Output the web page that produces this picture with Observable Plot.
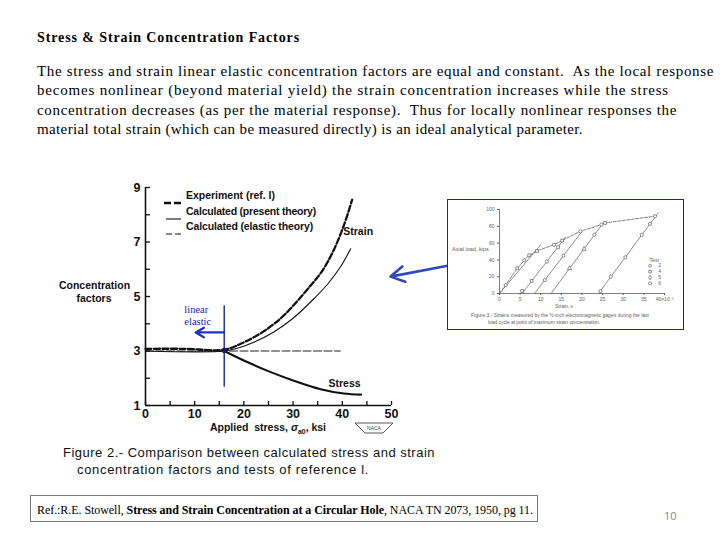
<!DOCTYPE html>
<html><head><meta charset="utf-8">
<script src="https://cdn.jsdelivr.net/npm/d3@7"></script>
<script src="https://cdn.jsdelivr.net/npm/@observablehq/plot@0.6"></script>
<style>
body{margin:0;background:#fff;}
#slide{position:relative;width:720px;height:540px;overflow:hidden;background:#fff;color:#000;}
.abs{position:absolute;white-space:pre;line-height:1;}
.plotbox{position:absolute;}
.plotbox svg{overflow:visible;}
</style></head><body><div id="slide"></div>
<script>
// ---------- text content ----------
const titleText = "Stress & Strain Concentration Factors";
const bodyLines = [
  "The stress and strain linear elastic concentration factors are equal and constant.  As the local response",
  "becomes nonlinear (beyond material yield) the strain concentration increases while the stress",
  "concentration decreases (as per the material response).  Thus for locally nonlinear responses the",
  "material total strain (which can be measured directly) is an ideal analytical parameter."
];
const bodyWidths = [677, 632, 640, 546];
const refHtml = "Ref.:R.E. Stowell, <b>Stress and Strain Concentration at a Circular Hole</b>, NACA TN 2073, 1950, pg 11.";
const pageNumber = "10";
const legendLabels = ["Experiment (ref. I)", "Calculated (present theory)", "Calculated (elastic theory)"];
const captionLines = ["Figure 2.- Comparison between calculated stress and strain", "concentration factors and tests of reference l."];
const insetCaption = ["Figure 3.- Strains measured by the \u00bd-inch electromagnetic gages during the last", "load cycle at point of maximum strain concentration."];

// ---------- main chart data ----------
const xTicks = [0, 10, 20, 30, 40, 50];
const xMinorTicks = [0, 5, 10, 15, 20, 25, 30, 35, 40, 45, 50];
const yTicks = [1, 3, 5, 7, 9];
const yMinorTicks = [1, 2, 3, 4, 5, 6, 7, 8, 9];
const expStrain = [[0,3.08],[8,3.08],[16,3.05],[20,3.32],[24,3.72],[27.5,4.2],[30,4.66],[33,5.28],[36,5.96],[38.3,6.72],[40.3,7.6],[42,8.55]];
const calcStrain = [[0,3],[16,3],[19,3.12],[22,3.32],[26,3.69],[30,4.2],[34.4,4.95],[37,5.45],[39.6,6.08],[41.7,6.75]];
const stressCurve = [[16,3.0],[20,2.65],[24.7,2.28],[30,1.92],[35.6,1.6],[40.3,1.44],[43.8,1.4]];
const elasticLine = [[0,3],[39.6,3]];
const junction = [[16,3.02]];
const curveLabels = [{x:40.2,y:7.37,t:"Strain"},{x:37.2,y:1.8,t:"Stress"}];
const blueRule = [{x:16,y1:1.67,y2:4.66}];
const blueText = [{x:7.9,y:4.52,t:"linear"},{x:7.9,y:4.08,t:"elastic"}];
const smallArrow = [{x1:16,y1:3.68,x2:10.2,y2:3.68}];
const bigArrow = [{x1:61.4,y1:6.13,x2:49.8,y2:5.73}];

// ---------- inset chart data ----------
const insetXTicks = [0,5,10,15,20,25,30,35,40];
const insetYTicks = [0,20,40,60,80,100];
const insetLoad = [[0,0],[1.5,10],[4.3,30],[6,39.5],[7.2,45.5],[9.1,50.6],[11.2,54.6],[13.2,58],[15.5,64],[19.6,74],[24.7,82],[25.6,84],[37.7,92],[38.5,96]];
const insetUnload = [
  {id:1,x:0,y:0},{id:1,x:10,y:58},
  {id:2,x:5.5,y:0},{id:2,x:16,y:67},
  {id:3,x:8.5,y:0},{id:3,x:20,y:74},
  {id:4,x:12.5,y:0},{id:4,x:25,y:83},
  {id:5,x:24,y:0},{id:5,x:38,y:93}
];
const insetPoints = [[1.5,10,"circle"],[4.3,30,"square"],[6,39.5,"circle"],[7.2,45.5,"square"],[9.1,50.6,"square"],[13.2,58,"circle"],[15.2,63,"square"],[19.6,74,"circle"],[24.7,82,"circle"],[25.6,84,"square"],[37.7,92,"circle"],[7.8,15,"square"],[11.5,38,"circle"],[14.2,55,"square"],[11,16,"circle"],[15.5,45,"circle"],[17,30,"triangle"],[20.5,53,"triangle"],[23,70,"circle"],[27,20,"circle"],[30.5,43,"circle"],[34.5,70,"circle"],[36.5,83,"circle"],[5.5,3,"square"],[24.5,3,"circle"]];
const insetLegend = [{s:"circle",t:"2",y:33},{s:"square",t:"4",y:26},{s:"diamond",t:"5",y:19},{s:"hexagon",t:"6",y:12}];

// ---------- helpers ----------
const slide = document.getElementById("slide");
const SERIF = '"Liberation Serif", "Times New Roman", serif';
const SANS = '"Liberation Sans", Arial, sans-serif';
function put(html, o) {
  const el = document.createElement("div");
  el.className = "abs";
  el.innerHTML = html;
  const s = el.style;
  s.fontFamily = o.font || SERIF;
  s.fontSize = o.size + "px";
  if (o.weight) s.fontWeight = o.weight;
  if (o.color) s.color = o.color;
  s.top = (o.cy - o.size / 2) + "px";
  s.left = (o.left || 0) + "px";
  slide.appendChild(el);
  if (o.width) {
    const w = el.getBoundingClientRect().width;
    const n = el.textContent.length;
    s.letterSpacing = ((o.width - w) / n) + "px";
  }
  if (o.cx !== undefined) {
    const w = el.getBoundingClientRect().width;
    s.left = (o.cx - w / 2) + "px";
  }
  return el;
}
function swatch(x1, x2, cy, dash, sw) {
  const d = document.createElement("div");
  d.className = "plotbox";
  d.style.left = x1 + "px"; d.style.top = (cy - 3) + "px";
  d.innerHTML = `<svg width="${x2 - x1}" height="6"><line x1="0" y1="3" x2="${x2 - x1}" y2="3" stroke="#111" stroke-width="${sw}" ${dash ? `stroke-dasharray="${dash}"` : ""}/></svg>`;
  slide.appendChild(d);
}

// ---------- slide text ----------
put(titleText, {left: 37, cy: 38, size: 14, weight: "bold", width: 263});
bodyLines.forEach((t, i) => put(t, {left: 37, cy: 71 + i * 19.6, size: 15, width: bodyWidths[i]}));

// footer box
const box = document.createElement("div");
box.style.cssText = "position:absolute;left:30px;top:495px;width:508px;height:27px;border:1px solid #777;box-sizing:border-box;";
slide.appendChild(box);
put(refHtml, {left: 37, cy: 510, size: 12, width: 496});
put(pageNumber, {left: 664, cy: 515, size: 11, font: '"Open Sans", sans-serif', color: "#888"});

// ---------- main chart ----------
const NAVY = "#1c2496";
const main = Plot.plot({
  width: 420, height: 265,
  marginLeft: 105, marginRight: 69, marginTop: 17, marginBottom: 30,
  style: {background: "transparent", fontFamily: SANS, fontSize: "12px", color: "#111", overflow: "visible"},
  x: {domain: [0, 50], label: null},
  y: {domain: [1, 9], label: null},
  marks: [
    Plot.line(elasticLine, {x: d => d[0], y: d => d[1], stroke: "#222", strokeWidth: 1, strokeDasharray: "8,2.5"}),
    Plot.line(calcStrain, {x: d => d[0], y: d => d[1], curve: "catmull-rom", stroke: "#111", strokeWidth: 1.1}),
    Plot.line(expStrain, {x: d => d[0], y: d => d[1], curve: "catmull-rom", stroke: "#111", strokeWidth: 2.3, strokeDasharray: "6,2.5"}),
    Plot.line(stressCurve, {x: d => d[0], y: d => d[1], curve: "catmull-rom", stroke: "#111", strokeWidth: 2.1}),
    Plot.text(curveLabels, {x: "x", y: "y", text: "t", textAnchor: "start", fontWeight: "bold", fontSize: 10.5, fill: "#111"}),
    Plot.ruleX(blueRule, {x: "x", y1: "y1", y2: "y2", stroke: NAVY, strokeWidth: 1.4}),
    Plot.arrow(smallArrow, {x1: "x1", y1: "y1", x2: "x2", y2: "y2", stroke: "#2233bb", strokeWidth: 2.2, headLength: 7}),
    Plot.text(blueText, {x: "x", y: "y", text: "t", textAnchor: "start", fontFamily: SERIF, fontSize: 10.5, fill: NAVY}),
    Plot.arrow(bigArrow, {x1: "x1", y1: "y1", x2: "x2", y2: "y2", stroke: "#2f47c0", strokeWidth: 2.6, headLength: 9}),
    Plot.dot(junction, {x: d => d[0], y: d => d[1], r: 2.6, fill: "#1a1a60"}),
    Plot.ruleX([0], {y1: 1, y2: 9, stroke: "#111", strokeWidth: 1.6}),
    Plot.ruleY([1], {x1: 0, x2: 50, stroke: "#111", strokeWidth: 1.6}),
    Plot.axisX({ticks: xMinorTicks, tickSize: -4, text: null, label: null, strokeWidth: 1.3}),
    Plot.axisY({ticks: yMinorTicks, tickSize: -5, text: null, label: null, strokeWidth: 1.3}),
    Plot.axisX({ticks: xTicks, tickSize: 0, tickPadding: 4, label: null, fontWeight: "bold", fontSize: 12.5}),
    Plot.axisY({ticks: yTicks, tickSize: 0, tickPadding: 5, label: null, fontWeight: "bold", fontSize: 12.5})
  ]
});
const mainBox = document.createElement("div");
mainBox.className = "plotbox";
mainBox.style.left = "40px"; mainBox.style.top = "170px";
mainBox.appendChild(main);
slide.appendChild(mainBox);

// legend
swatch(164, 183, 195, "7,3", 2.3);
swatch(166, 181, 211, null, 1.1);
swatch(166, 182, 226, "6,3", 1);
put(legendLabels[0], {left: 186, cy: 195, size: 10.5, font: SANS, weight: "bold", color: "#111", width: 89});
put(legendLabels[1], {left: 186, cy: 211, size: 10.5, font: SANS, weight: "bold", color: "#111", width: 130});
put(legendLabels[2], {left: 186, cy: 226, size: 10.5, font: SANS, weight: "bold", color: "#111", width: 127});

// axis titles and caption
put("Concentration", {cx: 94.5, cy: 285, size: 10.5, font: SANS, weight: "bold", color: "#111"});
put("factors", {cx: 94, cy: 298, size: 10.5, font: SANS, weight: "bold", color: "#111"});
put("Applied  stress, <i>\u03c3</i><sub style=\"font-size:7px\">a0</sub>, ksi", {left: 210, cy: 427, size: 10.5, font: SANS, weight: "bold", color: "#111", width: 116});
put(captionLines[0], {left: 63, cy: 452, size: 13, font: SANS, color: "#111", width: 372});
put(captionLines[1], {left: 77, cy: 469, size: 13, font: SANS, color: "#111", width: 292});

// NACA mark
const naca = document.createElement("div");
naca.className = "plotbox";
naca.style.left = "354px"; naca.style.top = "421px";
naca.innerHTML = '<svg width="40" height="14"><path d="M1,2 L39,2 L29,12 L11,12 Z" fill="none" stroke="#444" stroke-width="0.9"/><text x="20" y="8.5" font-size="5" text-anchor="middle" font-family="Liberation Sans" fill="#444">NACA</text></svg>';
slide.appendChild(naca);

// ---------- inset ----------
const insetFrame = document.createElement("div");
insetFrame.style.cssText = "position:absolute;left:447px;top:199px;width:237px;height:131px;border:1.6px solid #22228a;box-sizing:border-box;background:#fff;";
slide.appendChild(insetFrame);
const GRAY = "#5e5e5e";
const inset = Plot.plot({
  width: 235, height: 110,
  marginLeft: 51, marginRight: 19, marginTop: 9, marginBottom: 17,
  style: {background: "transparent", fontFamily: SANS, fontSize: "5px", color: GRAY, overflow: "visible"},
  x: {domain: [0, 40], label: null},
  y: {domain: [0, 100], label: null},
  symbol: {legend: false},
  marks: [
    Plot.ruleX([0], {y1: 0, y2: 100, stroke: GRAY, strokeWidth: 0.8}),
    Plot.ruleY([0], {x1: 0, x2: 40, stroke: GRAY, strokeWidth: 0.8}),
    Plot.axisX({ticks: insetXTicks, tickSize: 2, tickPadding: 2, label: null, fontSize: 5, tickFormat: d => d === 40 ? "40\u00d710\u207b\u00b3" : String(d)}),
    Plot.axisY({ticks: insetYTicks, tickSize: 2, tickPadding: 3, label: null, fontSize: 5}),
    Plot.line(insetUnload, {x: "x", y: "y", z: "id", stroke: GRAY, strokeWidth: 0.7}),
    Plot.line(insetLoad, {x: d => d[0], y: d => d[1], stroke: GRAY, strokeWidth: 0.8, strokeDasharray: "3,1.5"}),
    Plot.dot(insetPoints, {x: d => d[0], y: d => d[1], symbol: d => d[2], r: 1.6, stroke: GRAY, strokeWidth: 0.7, fill: "white"}),
    Plot.text(["Test"], {x: 37.5, y: 40, text: d => d, fontSize: 5, fill: GRAY}),
    Plot.dot(insetLegend, {x: 36.5, y: "y", symbol: "s", r: 1.4, stroke: GRAY, strokeWidth: 0.7}),
    Plot.text(insetLegend, {x: 38.8, y: "y", text: "t", fontSize: 5, fill: GRAY})
  ]
});
const insetBox = document.createElement("div");
insetBox.className = "plotbox";
insetBox.style.left = "448px"; insetBox.style.top = "200px";
insetBox.appendChild(inset);
slide.appendChild(insetBox);
put("Axial load, kips", {left: 452, cy: 250, size: 5.5, font: SANS, color: GRAY});
put("Strain, \u03b5", {left: 555, cy: 306.5, size: 5, font: SANS, color: GRAY});
put(insetCaption[0], {left: 471, cy: 315.5, size: 5, font: SANS, color: GRAY, width: 178});
put(insetCaption[1], {left: 488, cy: 322.5, size: 5, font: SANS, color: GRAY, width: 112});
</script></body></html>
